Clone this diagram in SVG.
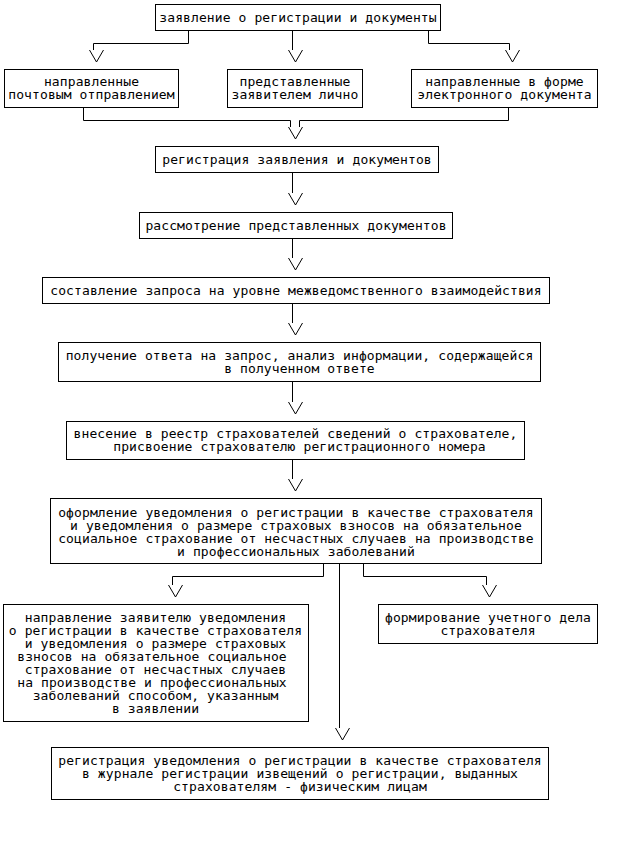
<svg xmlns="http://www.w3.org/2000/svg" width="634" height="859" viewBox="0 0 634 859">
<style>
.box{fill:#fff;stroke:#000;stroke-width:1}
.t{font-family:"DejaVu Sans Mono","Liberation Mono",monospace;font-size:13px;letter-spacing:0.1px;fill:#000;text-anchor:middle}
.c{fill:none;stroke:#000;stroke-width:1}
.v{fill:none;stroke:#000;stroke-width:1}
</style>
<rect width="634" height="859" fill="#fff"/>
<g id="connectors">
<path class="c" d="M188.5 30V43.5H93.5V50"/>
<polyline class="v" points="89.5,50 96.5,62 103.5,50"/>
<path class="c" d="M292.5 30V50"/>
<polyline class="v" points="288.5,50 295.5,62 302.5,50"/>
<path class="c" d="M428.5 30V43.5H509.5V50"/>
<polyline class="v" points="505.5,50 512.5,62 519.5,50"/>
<path class="c" d="M83.5 107V120.5H290.5V127"/>
<path class="c" d="M508.5 107V120.5H299.5V127"/>
<polyline class="v" points="288.5,127 295.5,139 302.5,127"/>
<path class="c" d="M292.5 172V193"/>
<polyline class="v" points="288.5,193 295.5,205 302.5,193"/>
<path class="c" d="M292.5 238V258"/>
<polyline class="v" points="288.5,258 295.5,270 302.5,258"/>
<path class="c" d="M292.5 303V323"/>
<polyline class="v" points="288.5,323 295.5,335 302.5,323"/>
<path class="c" d="M292.5 381V402"/>
<polyline class="v" points="288.5,402 295.5,414 302.5,402"/>
<path class="c" d="M292.5 459V479"/>
<polyline class="v" points="288.5,479 295.5,491 302.5,479"/>
<path class="c" d="M323.5 563V576.5H172.5V585"/>
<polyline class="v" points="168.5,585 175.5,597 182.5,585"/>
<path class="c" d="M363.5 563V576.5H486.5V585"/>
<polyline class="v" points="482.5,585 489.5,597 496.5,585"/>
<path class="c" d="M339.5 563V728"/>
<polyline class="v" points="335.5,728 342.5,740 349.5,728"/>
</g>
<g id="n1"><rect class="box" x="155.5" y="4.5" width="285" height="26"/><text class="t" x="298" y="22">заявление о регистрации и документы</text></g>
<g id="n2a"><rect class="box" x="4.5" y="69.5" width="174" height="38"/><text class="t" x="91.5" y="86">направленные</text><text class="t" x="91.5" y="99">почтовым отправлением</text></g>
<g id="n2b"><rect class="box" x="227.5" y="69.5" width="135" height="38"/><text class="t" x="295" y="86">представленные</text><text class="t" x="295" y="99">заявителем лично</text></g>
<g id="n2c"><rect class="box" x="411.5" y="69.5" width="186" height="38"/><text class="t" x="504.5" y="86">направленные в форме</text><text class="t" x="504.5" y="99">электронного документа</text></g>
<g id="n3"><rect class="box" x="155.5" y="146.5" width="283" height="26"/><text class="t" x="297" y="163.5">регистрация заявления и документов</text></g>
<g id="n4"><rect class="box" x="139.5" y="212.5" width="313" height="26"/><text class="t" x="296" y="229.5">рассмотрение представленных документов</text></g>
<g id="n5"><rect class="box" x="42.5" y="277.5" width="507" height="26"/><text class="t" x="296" y="294.5">составление запроса на уровне межведомственного взаимодействия</text></g>
<g id="n6"><rect class="box" x="58.5" y="342.5" width="482" height="39"/><text class="t" x="299.5" y="359.5">получение ответа на запрос, анализ информации, содержащейся</text><text class="t" x="299.5" y="372.5">в полученном ответе</text></g>
<g id="n7"><rect class="box" x="66.5" y="421.5" width="458" height="38"/><text class="t" x="295.5" y="437.5">внесение в реестр страхователей сведений о страхователе,</text><text class="t" x="299.5" y="451">присвоение страхователю регистрационного номера</text></g>
<g id="n8"><rect class="box" x="50.5" y="498.5" width="491" height="65"/><text class="t" x="296" y="516.5">оформление уведомления о регистрации в качестве страхователя</text><text class="t" x="296" y="529.5">и уведомления о размере страховых взносов на обязательное</text><text class="t" x="296" y="542.5">социальное страхование от несчастных случаев на производстве</text><text class="t" x="296" y="555.5">и профессиональных заболеваний</text></g>
<g id="n9"><rect class="box" x="3.5" y="604.5" width="305" height="117"/><text class="t" x="155.5" y="621.5">направление заявителю уведомления</text><text class="t" x="155.5" y="634.5">о регистрации в качестве страхователя</text><text class="t" x="155.5" y="647.5">и уведомления о размере страховых</text><text class="t" x="152" y="660.5">взносов на обязательное социальное</text><text class="t" x="155.5" y="673.5">страхование от несчастных случаев</text><text class="t" x="152" y="686.5">на производстве и профессиональных</text><text class="t" x="155.5" y="699.5">заболеваний способом, указанным</text><text class="t" x="155.5" y="712.5">в заявлении</text></g>
<g id="n11"><rect class="box" x="378.5" y="604.5" width="219" height="39"/><text class="t" x="488" y="621.5">формирование учетного дела</text><text class="t" x="488" y="634.5">страхователя</text></g>
<g id="n10"><rect class="box" x="51.5" y="747.5" width="497" height="52"/><text class="t" x="300" y="764.5">регистрация уведомления о регистрации в качестве страхователя</text><text class="t" x="300" y="777.5">в журнале регистрации извещений о регистрации, выданных</text><text class="t" x="300" y="790.5">страхователям - физическим лицам</text></g>
</svg>
